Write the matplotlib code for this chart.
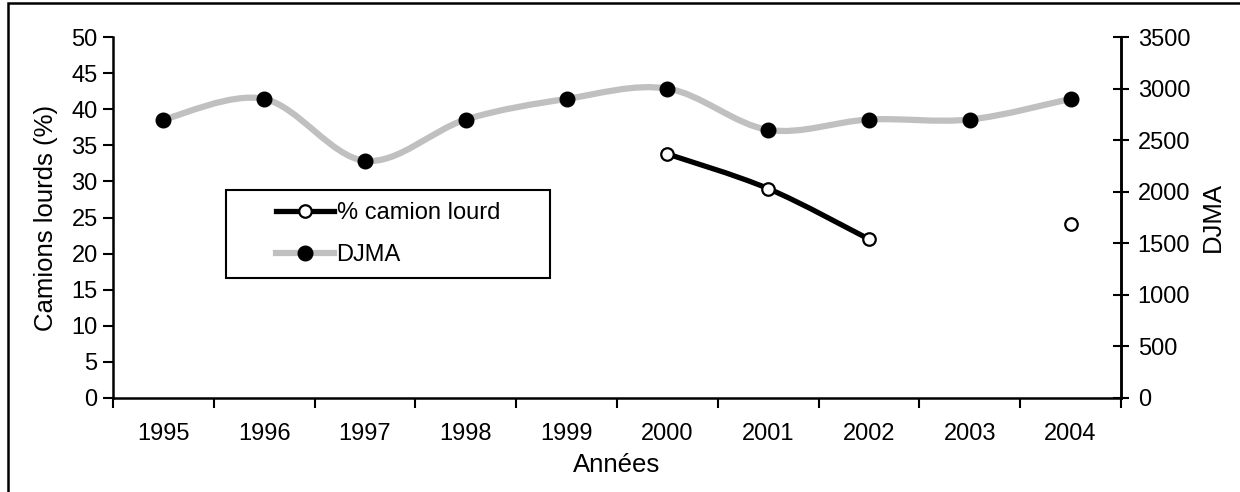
import numpy as np
import matplotlib
matplotlib.use('Agg')
import matplotlib.pyplot as plt
from matplotlib.path import Path
from matplotlib.patches import PathPatch, Rectangle
from matplotlib.lines import Line2D

plt.rcParams['font.family'] = ['Liberation Sans', 'DejaVu Sans']

# data
annees = ['1995', '1996', '1997', '1998', '1999', '2000', '2001', '2002', '2003', '2004']
djma = [2700, 2900, 2300, 2700, 2900, 3000, 2600, 2700, 2700, 2900]
pct_camion = [np.nan, np.nan, np.nan, np.nan, np.nan, 33.8, 29.0, 22.0, np.nan, 24.1]


def smooth_path(xs, ys):
    # Excel-like smoothed line: cubic bezier through the points (Catmull-Rom control points)
    pts = np.column_stack([xs, ys]).astype(float)
    n = len(pts)
    verts = [pts[0]]
    codes = [Path.MOVETO]
    for i in range(n - 1):
        p0 = pts[max(i - 1, 0)]
        p1 = pts[i]
        p2 = pts[i + 1]
        p3 = pts[min(i + 2, n - 1)]
        verts += [p1 + (p2 - p0) / 6, p2 - (p3 - p1) / 6, p2]
        codes += [Path.CURVE4] * 3
    return Path(verts, codes)


def draw_smooth(ax, xs, ys, color, lw, z):
    xs = np.asarray(xs, float)
    ys = np.asarray(ys, float)
    ok = ~np.isnan(ys)
    # split into runs of consecutive valid values
    runs = []
    cur = []
    for i in range(len(ys)):
        if ok[i]:
            cur.append(i)
        else:
            if cur:
                runs.append(cur)
            cur = []
    if cur:
        runs.append(cur)
    for r in runs:
        if len(r) > 1:
            p = PathPatch(smooth_path(xs[r], ys[r]), fill=False, edgecolor=color,
                          lw=lw, capstyle='round', joinstyle='round', zorder=z)
            ax.add_patch(p)


x = np.arange(len(annees))

fig = plt.figure(figsize=(12.4, 4.92), dpi=100)
ax = fig.add_axes([113 / 1240, 1 - 398 / 492, (1121 - 113) / 1240, (398 - 37) / 492])
ax2 = ax.twinx()

# outer frame of the chart area
fig.patches.append(Rectangle((8 / 1240, -0.05), 1.1, (492 - 3) / 492 + 0.05,
                             transform=fig.transFigure, fill=False,
                             edgecolor='black', lw=1.8))

# % camion lourd on left axis
draw_smooth(ax, x, pct_camion, 'black', 3.8, 2)
ax.plot(x, pct_camion, ls='none', marker='o', ms=9, mfc='white', mec='black',
        mew=1.6, zorder=3, clip_on=False)

# DJMA on right axis
draw_smooth(ax2, x, djma, '#c0c0c0', 4.5, 2)
ax2.plot(x, djma, ls='none', marker='o', ms=10.5, mfc='black', mec='black', zorder=3)

ax.set_xlim(-0.5, len(annees) - 0.5)
ax.set_ylim(0, 50)
ax2.set_ylim(0, 3500)
ax.set_yticks(np.arange(0, 51, 5))
ax2.set_yticks(np.arange(0, 3501, 500))

ax.set_xticks(np.arange(-0.5, len(annees), 1))
ax.set_xticklabels([])
ax.set_xticks(x, minor=True)
ax.set_xticklabels(annees, minor=True)
ax.tick_params(axis='x', which='major', direction='out', length=7, width=1.5)
ax.tick_params(axis='x', which='minor', length=0, labelsize=17, pad=18)
ax.tick_params(axis='y', direction='out', length=7, width=1.5, labelsize=17, pad=4)
ax2.tick_params(axis='y', direction='inout', length=12, width=1.5, labelsize=17, pad=6)

for a in (ax, ax2):
    a.spines['top'].set_visible(False)
    for s in ('left', 'right', 'bottom'):
        a.spines[s].set_linewidth(1.8)
ax2.spines['left'].set_visible(False)
ax2.spines['bottom'].set_visible(False)

ax.set_xlabel('Années', fontsize=18.5, labelpad=6)
ax.set_ylabel('Camions lourds (%)', fontsize=18.5, labelpad=10)
ax2.set_ylabel('DJMA', fontsize=18.5, labelpad=8)

# legend box (Excel style: entries centred in a fixed frame)
box = (0.112, 0.332, 0.322, 0.244)
ax2.add_patch(Rectangle(box[:2], box[2], box[3], transform=ax2.transAxes,
                        facecolor='white', edgecolor='black', lw=1.5, zorder=4.9))
handles = [
    Line2D([], [], color='black', lw=3.8, marker='o', ms=9, mfc='white', mec='black', mew=1.6),
    Line2D([], [], color='#c0c0c0', lw=4.5, marker='o', ms=10.5, mfc='black', mec='black'),
]
leg = ax2.legend(handles, ['% camion lourd', 'DJMA'], loc='center',
                 bbox_to_anchor=(box[0] + box[2] / 2, box[1] + box[3] / 2),
                 fontsize=17, frameon=False, handlelength=2.45, handletextpad=0.1,
                 labelspacing=0.85, borderpad=0, borderaxespad=0)
leg.set_zorder(5)

fig.savefig('out.png', dpi=100)
